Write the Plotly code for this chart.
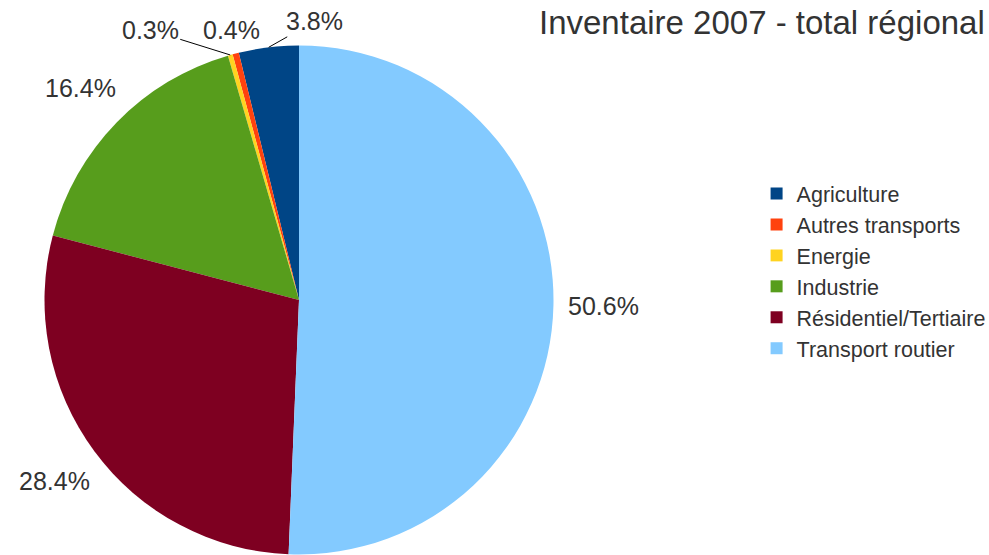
import math
import plotly.graph_objects as go

categories = ["Agriculture", "Autres transports", "Energie", "Industrie",
              "Résidentiel/Tertiaire", "Transport routier"]
values = [3.8, 0.4, 0.3, 16.4, 28.4, 50.6]
colors = ["#004586", "#ff420e", "#ffd320", "#579d1c", "#7e0021", "#83caff"]
title_text = "Inventaire 2007 - total régional"

FONT = "Liberation Sans, Arial, sans-serif"
W, H = 989, 555

# pie geometry (pixels)
CX, CY, R = 299, 300, 254.5
LABEL_DIST = R + 50
dom_x = [(CX - R) / W, (CX + R) / W]
dom_y = [1 - (CY + R) / H, 1 - (CY - R) / H]

total = sum(values)
start_rotation = -values[0] / total * 360

# small slices get leader-line labels placed side by side (offsets in px)
small_offsets = {0: (46, -26, True), 1: (-4, -24, False), 2: (-80, -25, True)}

label_font = dict(family=FONT, size=25, color="#333333")
annotations = [dict(text=title_text, x=987 / W, xanchor="right",
                    y=1 - 22 / H, yanchor="middle", xref="paper", yref="paper",
                    showarrow=False, font=dict(size=33, color="#333333"))]

cum = 0.0
for i, v in enumerate(values):
    mid = (cum + v / 2) / total * 2 * math.pi
    cum += v
    sx, sy = -math.sin(mid), -math.cos(mid)
    if i in small_offsets:
        ax, ay, arrow = small_offsets[i]
        px, py = CX + R * sx, CY + R * sy
        if arrow:
            annotations.append(dict(
                text=f"{v:.1f}%", x=px / W, y=1 - py / H, xref="paper", yref="paper",
                showarrow=True, ax=ax, ay=ay, arrowhead=0, arrowwidth=1,
                arrowcolor="#000000", standoff=0, font=label_font))
        else:
            annotations.append(dict(
                text=f"{v:.1f}%", x=(px + ax) / W, y=1 - (py + ay) / H,
                xref="paper", yref="paper", showarrow=False,
                xanchor="center", yanchor="middle", font=label_font))
    else:
        px, py = CX + LABEL_DIST * sx, CY + LABEL_DIST * sy
        annotations.append(dict(
            text=f"{v:.1f}%", x=px / W, y=1 - py / H, xref="paper", yref="paper",
            showarrow=False, xanchor="center", yanchor="middle", font=label_font))

fig = go.Figure(go.Pie(
    labels=categories,
    values=values,
    sort=False,
    direction="counterclockwise",
    rotation=start_rotation,
    marker=dict(colors=colors, line=dict(width=0)),
    textinfo="none",
    domain=dict(x=dom_x, y=dom_y),
    hoverinfo="label+value",
))

fig.update_layout(
    width=W, height=H,
    margin=dict(l=0, r=0, t=0, b=0, autoexpand=False),
    paper_bgcolor="white",
    font=dict(family=FONT, color="#333333"),
    legend=dict(x=0.765, y=1 - 271 / H, xanchor="left", yanchor="middle",
                font=dict(size=21.5, color="#333333"), itemwidth=30),
    annotations=annotations,
)

fig.write_html("out.html", config={"displayModeBar": False},
               post_script="document.body.style.margin='0';")
